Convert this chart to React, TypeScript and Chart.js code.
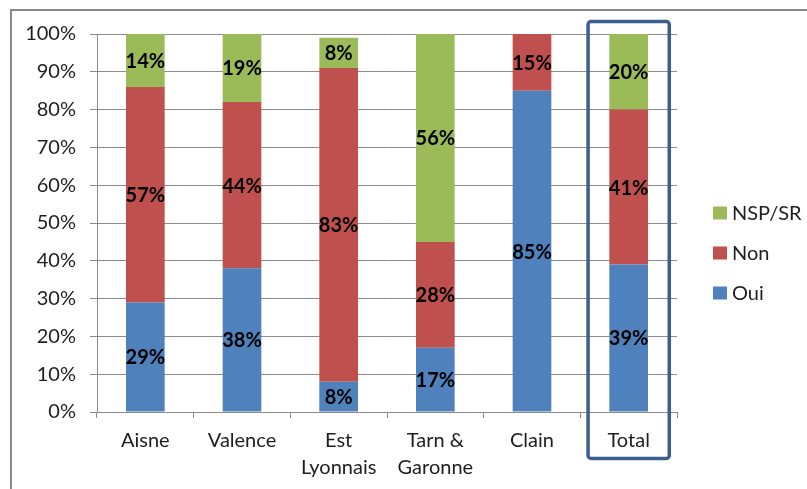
import React, { useEffect, useRef } from "react";
import { Chart, registerables } from "chart.js";

Chart.register(...registerables);

const categories: (string | string[])[] = [
  "Aisne",
  "Valence",
  ["Est", "Lyonnais"],
  ["Tarn &", "Garonne"],
  "Clain",
  "Total",
];
const oui = [29, 38, 8, 17, 85, 39];
const non = [57, 44, 83, 28, 15, 41];
const nspSr = [14, 19, 8, 56, 0, 20];
const yTicks = [0, 10, 20, 30, 40, 50, 60, 70, 80, 90, 100];
const highlighted = "Total";

const FONT = "Lato, 'Open Sans', sans-serif";
const GRID = "#8c8c8c";
const TEXT = "#1e1e1e";

// Outer frame, segment value labels, legend and highlight box
const decorations = {
  id: "decorations",
  beforeDraw(chart: Chart) {
    const { ctx } = chart;
    ctx.save();
    ctx.fillStyle = "#ffffff";
    ctx.fillRect(0, 0, chart.width, chart.height);
    ctx.strokeStyle = "#8a8a8a";
    ctx.lineWidth = 2;
    ctx.strokeRect(11, 10, chart.width + 20, chart.height + 20);
    ctx.restore();
  },
  afterDatasetsDraw(chart: Chart) {
    const { ctx } = chart;
    ctx.save();
    // value labels centred in each segment
    ctx.font = `bold 20px ${FONT}`;
    ctx.fillStyle = "#000000";
    ctx.textAlign = "center";
    ctx.textBaseline = "middle";
    chart.data.datasets.forEach((ds, di) => {
      const meta = chart.getDatasetMeta(di);
      meta.data.forEach((el: any, i) => {
        const v = ds.data[i] as number;
        if (!v) return;
        const top = Math.max(el.y, chart.chartArea.top);
        const cy = (top + el.base) / 2;
        ctx.fillText(`${v}%`, el.x, cy + 1);
      });
    });

    // highlight box around the total column
    const xs = chart.scales.x;
    const idx = chart.data.labels!.indexOf(highlighted);
    const cx = xs.getPixelForValue(idx);
    const half = (xs.width / categories.length) * 0.42;
    const x0 = cx - half;
    const x1 = cx + half;
    const y0 = chart.chartArea.top - 12.5;
    const y1 = chart.chartArea.bottom + 46.5;
    ctx.strokeStyle = "#3c5f8c";
    ctx.lineWidth = 3.5;
    ctx.beginPath();
    (ctx as any).roundRect(x0, y0, x1 - x0, y1 - y0, 3);
    ctx.stroke();

    // legend, top entry is the last series
    ctx.font = `20px ${FONT}`;
    ctx.textAlign = "left";
    ctx.textBaseline = "middle";
    const lx = chart.chartArea.right + 36;
    const order = [2, 1, 0];
    order.forEach((di, k) => {
      const ds = chart.data.datasets[di];
      const y = 213 + k * 40;
      ctx.fillStyle = ds.backgroundColor as string;
      ctx.fillRect(lx, y - 6.5, 14, 13);
      ctx.fillStyle = TEXT;
      ctx.fillText(ds.label as string, lx + 19, y + 1);
    });
    ctx.restore();
  },
};

export default function App() {
  const ref = useRef<HTMLCanvasElement>(null);

  useEffect(() => {
    if (!ref.current) return;
    const chart = new Chart(ref.current, {
      type: "bar",
      data: {
        labels: categories as any,
        datasets: [
          { label: "Oui", data: oui, backgroundColor: "#4f81bd" },
          { label: "Non", data: non, backgroundColor: "#c0504d" },
          { label: "NSP/SR", data: nspSr, backgroundColor: "#9bbb59" },
        ],
      },
      options: {
        animation: false,
        responsive: false,
        maintainAspectRatio: false,
        layout: { padding: { left: 0, right: 130, top: 34, bottom: 0 } },
        datasets: {
          bar: { barPercentage: 0.4, categoryPercentage: 1.0 },
        },
        plugins: {
          legend: { display: false },
          tooltip: { enabled: false },
        },
        scales: {
          x: {
            stacked: true,
            offset: true,
            grid: {
              offset: true,
              drawOnChartArea: false,
              drawTicks: true,
              tickLength: 6,
              color: GRID,
            },
            border: { display: true, color: GRID, width: 1 },
            ticks: {
              color: TEXT,
              font: { family: FONT, size: 20, lineHeight: 1.35 },
              padding: 9,
              maxRotation: 0,
              autoSkip: false,
            },
            afterFit(scale: any) {
              scale.height = 77;
            },
          },
          y: {
            stacked: true,
            min: 0,
            max: 100,
            afterBuildTicks(scale: any) {
              scale.ticks = yTicks.map((v) => ({ value: v }));
            },
            grid: {
              color: GRID,
              tickLength: 7,
              drawTicks: true,
            },
            border: { display: true, color: GRID, width: 1 },
            ticks: {
              color: TEXT,
              font: { family: FONT, size: 20 },
              padding: 14,
              callback: (v: any) => `${v}%`,
            },
            afterFit(scale: any) {
              scale.width = 97;
            },
          },
        },
      },
      plugins: [decorations],
    });
    return () => chart.destroy();
  }, []);

  return (
    <div style={{ position: "fixed", left: 0, top: 0, width: 807, height: 489 }}>
      <canvas ref={ref} width={807} height={489} style={{ display: "block" }} />
    </div>
  );
}
